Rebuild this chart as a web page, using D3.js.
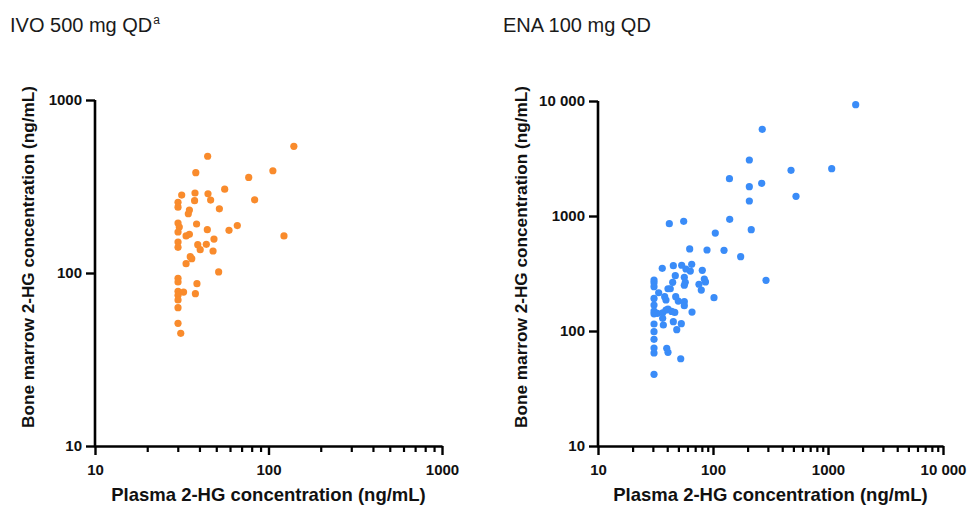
<!DOCTYPE html>
<html>
<head>
<meta charset="utf-8">
<script src="https://cdn.jsdelivr.net/npm/d3@7"></script>
<style>
  html, body { margin: 0; padding: 0; background: #fff; }
  svg { display: block; font-family: "Liberation Sans", Arial, sans-serif; }
</style>
</head>
<body>
<svg id="chart" width="971" height="508"></svg>
<script>
// IVO 500 mg QD: plasma vs bone marrow 2-HG (ng/mL)
const ivoPlasma = [140, 44.6, 38.1, 106, 76.9, 55.9, 31.6, 37.7, 44.8, 83.2, 46.4, 37.5, 30.1, 30.1, 52.1, 35.0, 34.5,
  30.1, 38.5, 66.1, 30.6, 44.4, 59.2, 30.1, 35.0, 33.5, 122.8, 48.5, 30.1, 43.8, 39.1, 30.1, 40.4, 47.9, 35.4, 36.1,
  33.5, 51.6, 30.1, 30.1, 38.7, 30.1, 32.4, 37.9, 30.1, 30.1, 30.1, 30.1, 31.2];
const ivoMarrow = [540, 473, 380, 390, 357, 305, 282, 290, 287, 265, 264, 262, 256, 240, 235, 231, 220,
  194.5, 192, 188, 184.5, 178, 176.5, 172.6, 167.4, 163.7, 163.7, 157, 151, 146.5, 145.8, 140.7, 136.4, 134, 124.3, 121,
  113.2, 101.4, 93.1, 88.7, 86.7, 78.4, 77.6, 75.9, 74.3, 69.8, 63.0, 51.2, 44.8];

// ENA 100 mg QD: plasma vs bone marrow 2-HG (ng/mL)
const enaPlasma = [1741, 268, 207, 477, 1077, 139, 207, 265, 527, 207, 139.7, 215, 104.7, 88.7, 124.7, 174, 289,
  80.7, 84, 86, 79.1, 75.5, 102, 41.7, 55.6, 62.7, 36.2, 45.2, 53.4, 65.3, 58.2, 63.5, 47, 56.3, 30.7, 44.6, 57.4,
  30.7, 56.3, 30.7, 33.7, 40.6, 42.5, 38, 39, 30.7, 30.7, 47.4, 49.9, 56.3, 56.3, 65.7, 30.7, 32.8, 36.5, 39, 40.6,
  43.7, 46.5, 30.7, 36.5, 37, 45.2, 53, 48.4, 30.7, 30.7, 30.7, 30.7, 30.7, 39.6, 40.6, 52.4, 30.7];
const enaMarrow = [9290, 5675, 3070, 2495, 2578, 2112, 1798, 1924, 1483, 1350, 935, 760, 711, 506, 503, 443, 276,
  337, 283, 267, 227, 255, 195, 857, 899, 517, 351, 370, 373, 380, 346, 332, 303, 293, 277, 265, 265,
  263, 250, 243, 215, 233, 233, 199, 186, 192, 168, 199, 182, 180, 166, 146, 149, 142.6, 144, 152, 155,
  148, 145, 141, 129, 112.8, 120.5, 115.8, 102.6, 115, 98.6, 84.7, 71.1, 64.4, 70.7, 65.3, 57.4, 42];

// Axis ticks
const ivoXTicks = [10, 100, 1000];
const ivoYTicks = [10, 100, 1000];
const enaXTicks = [10, 100, 1000, 10000];
const enaYTicks = [10, 100, 1000, 10000];

const xTitle = "Plasma 2-HG concentration (ng/mL)";
const yTitle = "Bone marrow 2-HG concentration (ng/mL)";

const svg = d3.select("#chart");

// thousands separated by a space: 10000 -> "10 000"
const fmt = d => d >= 10000 ? String(d).replace(/\B(?=(\d{3})+(?!\d))/g, " ") : String(d);

function minorTicks(domain) {
  const out = [];
  for (let dec = domain[0]; dec < domain[1]; dec *= 10) {
    for (let m = 2; m <= 9; m++) out.push(dec * m);
  }
  return out;
}

function panel(opts) {
  const x = d3.scaleLog().domain(opts.xDomain).range(opts.xRange);
  const y = d3.scaleLog().domain(opts.yDomain).range(opts.yRange);
  const g = svg.append("g");

  // title
  const t = g.append("text")
    .attr("x", opts.titleX).attr("y", 32)
    .attr("font-size", 20).attr("fill", "#1a1a1a")
    .text(opts.title);
  if (opts.sup) {
    t.append("tspan").attr("dx", 1).attr("dy", -8).attr("font-size", 12).text(opts.sup);
  }

  // points
  g.append("g").selectAll("circle")
    .data(opts.xs.map((v, i) => [v, opts.ys[i]]))
    .join("circle")
    .attr("cx", d => x(d[0]))
    .attr("cy", d => y(d[1]))
    .attr("r", 3.6)
    .attr("fill", opts.color);

  const y0 = opts.yRange[0];
  const x0 = opts.xRange[0];

  // x minor ticks
  g.append("g")
    .attr("transform", `translate(0,${y0})`)
    .call(d3.axisBottom(x).tickValues(minorTicks(opts.xDomain)).tickSize(6).tickFormat(""))
    .call(a => a.select(".domain").remove())
    .call(a => a.selectAll("line").attr("stroke", "#000").attr("stroke-width", 2.2));

  // x major axis
  g.append("g")
    .attr("transform", `translate(0,${y0})`)
    .call(d3.axisBottom(x).tickValues(opts.xTicks).tickSize(9).tickSizeOuter(0).tickPadding(9).tickFormat(fmt))
    .call(a => a.select(".domain").attr("stroke", "#000").attr("stroke-width", 2.6))
    .call(a => a.selectAll("line").attr("stroke", "#000").attr("stroke-width", 2.4))
    .call(a => a.selectAll("text").attr("font-size", 15).attr("font-weight", "bold")
      .attr("fill", "#111").attr("font-family", "'Liberation Sans', Arial, sans-serif"));

  // y axis
  g.append("g")
    .attr("transform", `translate(${x0},0)`)
    .call(d3.axisLeft(y).tickValues(opts.yTicks).tickSize(9).tickSizeOuter(0).tickPadding(4).tickFormat(fmt))
    .call(a => a.select(".domain").attr("stroke", "#000").attr("stroke-width", 2.6)
      .attr("d", `M0,${opts.yRange[1]}V${y0 + 1.3}`))
    .call(a => a.selectAll("line").attr("stroke", "#000").attr("stroke-width", 2.4))
    .call(a => a.selectAll("text").attr("font-size", 15).attr("font-weight", "bold")
      .attr("fill", "#111").attr("font-family", "'Liberation Sans', Arial, sans-serif"));

  // axis titles
  g.append("text")
    .attr("x", (opts.xRange[0] + opts.xRange[1]) / 2).attr("y", 501)
    .attr("text-anchor", "middle").attr("font-size", 18.5).attr("font-weight", "bold")
    .attr("fill", "#111")
    .text(xTitle);

  g.append("text")
    .attr("transform", `translate(${opts.yTitleX},257) rotate(-90)`)
    .attr("text-anchor", "middle").attr("font-size", 17.2).attr("font-weight", "bold")
    .attr("fill", "#111")
    .text(yTitle);
}

panel({
  title: "IVO 500 mg QD", sup: "a", titleX: 10,
  xs: ivoPlasma, ys: ivoMarrow, color: "#F98B2C",
  xDomain: [10, 1000], yDomain: [10, 1000],
  xRange: [95, 442], yRange: [446, 100],
  xTicks: ivoXTicks, yTicks: ivoYTicks, yTitleX: 34
});

panel({
  title: "ENA 100 mg QD", titleX: 503,
  xs: enaPlasma, ys: enaMarrow, color: "#3A8CF8",
  xDomain: [10, 10000], yDomain: [10, 10000],
  xRange: [598, 943], yRange: [446, 101],
  xTicks: enaXTicks, yTicks: enaYTicks, yTitleX: 527
});
</script>
</body>
</html>
